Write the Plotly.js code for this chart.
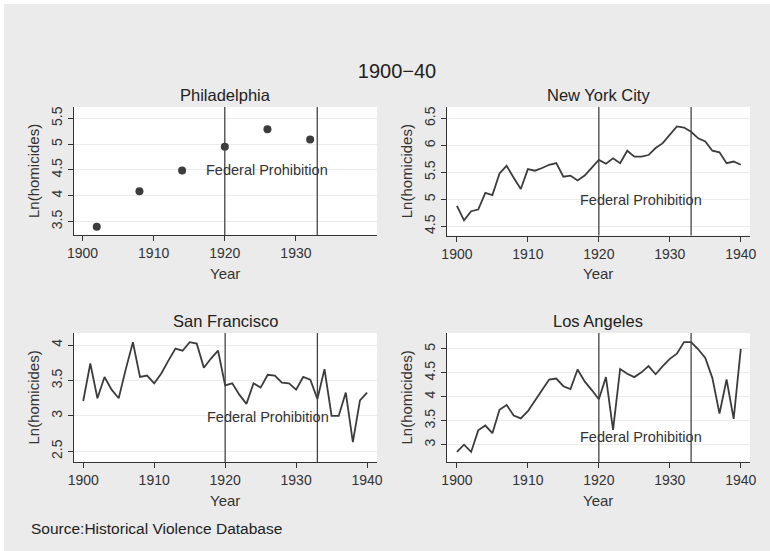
<!DOCTYPE html>
<html>
<head>
<meta charset="utf-8">
<script src="https://cdn.plot.ly/plotly-3.0.1.min.js"></script>
<style>
  html, body { margin: 0; padding: 0; background: #ffffff; }
  #chart { position: absolute; left: 4px; top: 4px; width: 766px; height: 547px; }
</style>
</head>
<body>
<div id="chart"></div>
<script>
// ---- data ----
const years = [1900,1901,1902,1903,1904,1905,1906,1907,1908,1909,1910,1911,1912,1913,1914,1915,1916,1917,1918,1919,1920,1921,1922,1923,1924,1925,1926,1927,1928,1929,1930,1931,1932,1933,1934,1935,1936,1937,1938,1939,1940];
const phillyYears = [1902, 1908, 1914, 1920, 1926, 1932];
const phillyValues = [3.40, 4.09, 4.49, 4.95, 5.29, 5.09];
const nycValues = [4.88,4.61,4.78,4.81,5.12,5.08,5.48,5.62,5.40,5.19,5.56,5.53,5.58,5.64,5.67,5.42,5.44,5.35,5.44,5.58,5.73,5.66,5.76,5.67,5.90,5.79,5.79,5.82,5.95,6.04,6.19,6.35,6.33,6.25,6.13,6.07,5.90,5.87,5.67,5.70,5.64];
const sfValues = [3.21,3.74,3.25,3.55,3.37,3.25,3.66,4.04,3.55,3.57,3.46,3.60,3.78,3.95,3.92,4.04,4.02,3.68,3.81,3.92,3.43,3.46,3.30,3.17,3.46,3.40,3.58,3.57,3.47,3.46,3.37,3.55,3.51,3.24,3.66,3.00,3.00,3.33,2.63,3.22,3.33];
const laValues = [2.85,3.00,2.85,3.30,3.40,3.24,3.73,3.83,3.61,3.55,3.70,3.91,4.14,4.36,4.38,4.22,4.16,4.57,4.32,4.14,3.95,4.41,3.31,4.58,4.48,4.41,4.51,4.64,4.47,4.64,4.79,4.90,5.14,5.14,4.99,4.81,4.39,3.65,4.36,3.54,5.00];
const prohibitionYears = [1920, 1933];
const panelTitles = ["Philadelphia", "New York City", "San Francisco", "Los Angeles"];
const mainTitle = "1900\u221240";
const xTitle = "Year";
const yTitle = "Ln(homicides)";
const noteText = "Federal Prohibition";
const sourceText = "Source:Historical Violence Database";
const xTicksPhilly = [1900, 1910, 1920, 1930];
const xTicksAll = [1900, 1910, 1920, 1930, 1940];
const yTicksPhilly = [3.5, 4, 4.5, 5, 5.5];
const yTicksNyc = [4.5, 5, 5.5, 6, 6.5];
const yTicksSf = [2.5, 3, 3.5, 4];
const yTicksLa = [3, 3.5, 4, 4.5, 5];

// ---- layout helpers (figure pixels -> paper) ----
const W = 766, H = 547, OX = 4, OY = 4;
const px = X => (X - OX) / W;
const py = Y => 1 - (Y - OY) / H;

const FONT = "Liberation Sans, Arial, Helvetica, sans-serif";
const TXT = "#333333";
const LINE = "#3c3c3c";

const panels = [
  {x0: 74,  x1: 377, y0: 107, y1: 235, xr: [1898.8, 1941.4], yr: [3.24, 5.72], xt: xTicksPhilly, yt: yTicksPhilly, noteY: 4.49},
  {x0: 447, x1: 750, y0: 107, y1: 235.5, xr: [1898.6, 1941.3], yr: [4.33, 6.71], xt: xTicksAll, yt: yTicksNyc, noteY: 4.98},
  {x0: 74,  x1: 377, y0: 333, y1: 462, xr: [1898.7, 1941.4], yr: [2.35, 4.17], xt: xTicksAll, yt: yTicksSf, noteY: 2.99},
  {x0: 447, x1: 750, y0: 333, y1: 462, xr: [1898.6, 1941.3], yr: [2.64, 5.33], xt: xTicksAll, yt: yTicksLa, noteY: 3.17}
];

const traces = [
  {x: phillyYears, y: phillyValues, type: "scatter", mode: "markers", marker: {color: LINE, size: 8}, xaxis: "x", yaxis: "y"},
  {x: years, y: nycValues, type: "scatter", mode: "lines", line: {color: LINE, width: 1.8}, xaxis: "x2", yaxis: "y2"},
  {x: years, y: sfValues, type: "scatter", mode: "lines", line: {color: LINE, width: 1.8}, xaxis: "x3", yaxis: "y3"},
  {x: years, y: laValues, type: "scatter", mode: "lines", line: {color: LINE, width: 1.8}, xaxis: "x4", yaxis: "y4"}
];

const layout = {
  width: W, height: H,
  margin: {l: 0, r: 0, t: 0, b: 0},
  paper_bgcolor: "#ebebeb",
  plot_bgcolor: "#ffffff",
  showlegend: false,
  font: {family: FONT, color: TXT, size: 14},
  title: {text: mainTitle, x: px(397), xanchor: "center", y: py(71), yanchor: "middle", yref: "paper", font: {size: 20, color: "#222"}},
  shapes: [],
  annotations: []
};

panels.forEach((p, i) => {
  const n = i === 0 ? "" : String(i + 1);
  const xa = "xaxis" + n, ya = "yaxis" + n;
  layout[xa] = {
    domain: [px(p.x0), px(p.x1)], range: p.xr, anchor: "y" + n,
    tickvals: p.xt, ticktext: p.xt.map(String),
    ticks: "outside", ticklen: 5, tickcolor: TXT, tickwidth: 1,
    showline: true, linecolor: "#333", linewidth: 1.3,
    showgrid: false, zeroline: false,
    tickfont: {size: 14, color: TXT}
  };
  layout[ya] = {
    domain: [py(p.y1), py(p.y0)], range: p.yr, anchor: "x" + n,
    tickvals: p.yt, ticktext: p.yt.map(String), tickangle: -90,
    ticks: "outside", ticklen: 5, tickcolor: TXT, tickwidth: 1,
    showline: true, linecolor: "#333", linewidth: 1.3,
    showgrid: true, gridcolor: "#ebebeb", gridwidth: 1, zeroline: false,
    tickfont: {size: 14, color: TXT}
  };
  prohibitionYears.forEach(yr => {
    layout.shapes.push({type: "line", xref: "x" + n, yref: "y" + n + " domain", x0: yr, x1: yr, y0: 0, y1: 1, line: {color: "#444", width: 1.3}});
  });
  layout.annotations.push({
    text: noteText, xref: "x" + n, yref: "y" + n, x: 1926, y: p.noteY,
    showarrow: false, xanchor: "center", yanchor: "middle", font: {size: 14.5, color: TXT}
  });
  layout.annotations.push({
    text: panelTitles[i], xref: "paper", yref: "paper",
    x: (px(p.x0) + px(p.x1)) / 2, y: py(p.y0 - 12), xanchor: "center", yanchor: "middle",
    showarrow: false, font: {size: 16.5, color: "#222"}
  });
  // axis titles
  layout.annotations.push({
    text: xTitle, xref: "paper", yref: "paper",
    x: (px(p.x0) + px(p.x1)) / 2, y: py(p.y1 + 38), xanchor: "center", yanchor: "middle",
    showarrow: false, font: {size: 15, color: TXT}
  });
  layout.annotations.push({
    text: yTitle, xref: "paper", yref: "paper", textangle: -90,
    x: px(p.x0 - 41), y: (py(p.y0) + py(p.y1)) / 2, xanchor: "center", yanchor: "middle",
    showarrow: false, font: {size: 15, color: TXT}
  });
});

layout.annotations.push({
  text: sourceText, xref: "paper", yref: "paper", x: px(29), y: py(528),
  xanchor: "left", yanchor: "middle", showarrow: false, font: {size: 15.5, color: "#222"}
});

Plotly.newPlot("chart", traces, layout, {displayModeBar: false, staticPlot: true});
</script>
</body>
</html>
